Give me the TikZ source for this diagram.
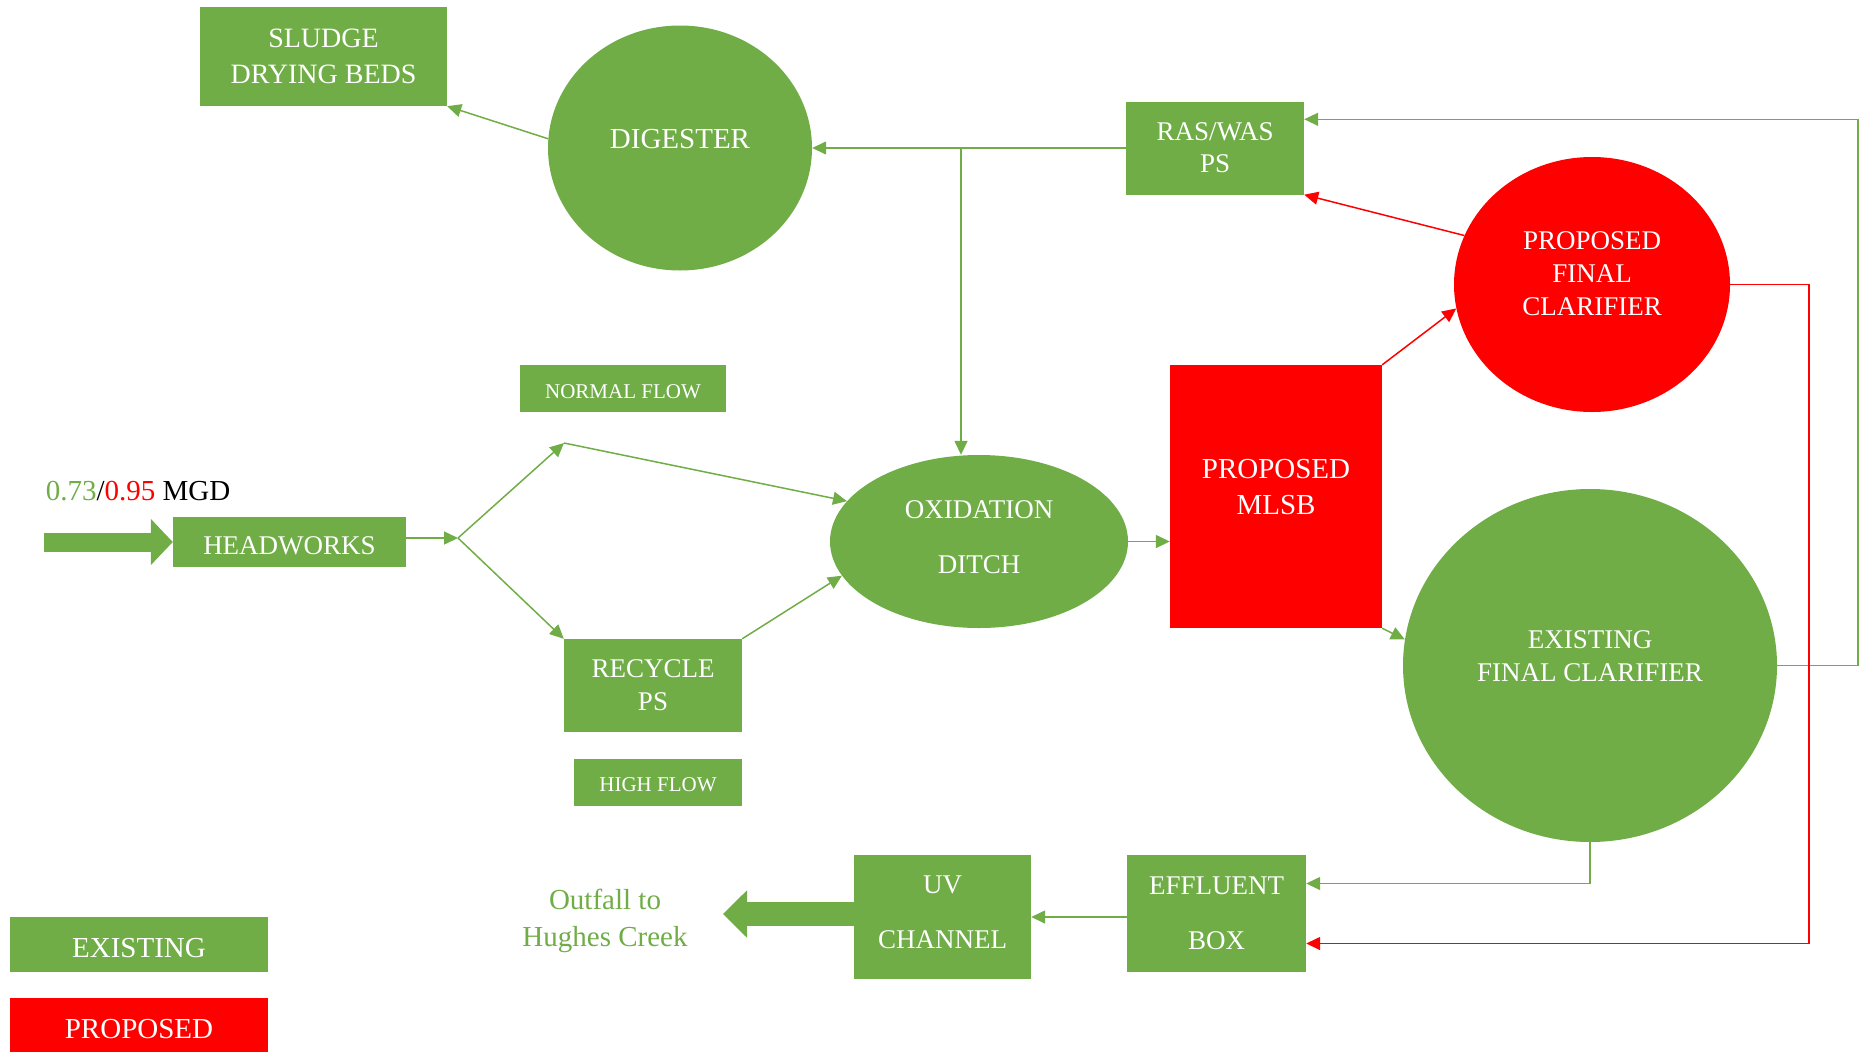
\documentclass[tikz,border=0pt]{standalone}
\usepackage{fontspec}
\setmainfont{Liberation Serif}
\usepackage{tikz}
\usetikzlibrary{arrows.meta}
\usetikzlibrary{shapes.geometric}
\usetikzlibrary{positioning}
\definecolor{plantgreen}{HTML}{70AD47}
\definecolor{plantred}{HTML}{FF0000}

\begin{document}
\begin{tikzpicture}[x=1pt, y=-1pt,
    box/.style={rectangle, fill=plantgreen, text=white, align=center, inner sep=0pt, font=\fontsize{27}{33}\selectfont},
    newbox/.style={box, fill=plantred},
    tank/.style={ellipse, fill=plantgreen, inner sep=0pt},
    newtank/.style={tank, fill=plantred},
    tag/.style={text=white, align=center, yshift=11pt, font=\fontsize{27}{33}\selectfont},
    flow/.style={color=plantgreen, line width=1.5pt, -{Triangle[length=14pt,width=13pt]}},
    newflow/.style={flow, color=plantred},
    fat/.style={color=plantgreen, line width=#1}]
    \useasboundingbox (0,0) rectangle (1867,1052);

    % Sludge side
    \node[box, minimum width=247, minimum height=99, font=\fontsize{28}{36}\selectfont] (sdb) at (323.5,56.5) {SLUDGE\\DRYING BEDS};
    \node[tank, minimum width=264, minimum height=245, label={[tag, yshift=-2.5pt, font=\fontsize{29}{35}\selectfont]center:DIGESTER}] (dig) at (680,148) {};
    \node[box, minimum width=178, minimum height=93, font=\fontsize{27}{32}\selectfont] (ras) at (1215,148) {RAS/WAS\\PS};

    % Headworks
    \node (rate) at (138,491) {\fontsize{29}{35}\selectfont\textcolor{plantgreen}{0.73}/\textcolor{plantred}{0.95} MGD};
    \node[box, minimum width=233, minimum height=50, text height=25pt, text depth=0pt] (hw) at (289.5,542) {HEADWORKS};
    \coordinate (split) at (458,538);
    \coordinate (upper) at (564,443);
    \node[box, minimum width=206, minimum height=47, text height=20pt, text depth=0pt, font=\fontsize{21}{25}\selectfont] (nflow) at (623,388.5) {NORMAL FLOW};
    \node[box, minimum width=178, minimum height=93] (rcy) at (653,685.5) {RECYCLE\\PS};
    \node[box, minimum width=168, minimum height=47, text height=18pt, text depth=0pt, font=\fontsize{21}{25}\selectfont] (hflow) at (658,782.5) {HIGH FLOW};

    % Treatment
    \node[tank, minimum width=298, minimum height=173, label={[tag, yshift=-7pt, font=\fontsize{27}{55}\selectfont]center:OXIDATION\\DITCH}] (ox) at (979,541.5) {};
    \node[newbox, minimum width=212, minimum height=263, label={[tag, yshift=-2pt, font=\fontsize{29}{36}\selectfont]center:PROPOSED\\MLSB}] (mlsb) at (1276,496.5) {};
    \node[newtank, minimum width=276, minimum height=255, label={[tag]center:PROPOSED\\FINAL\\CLARIFIER}] (pfc) at (1592,284.5) {};
    \node[tank, minimum width=374, minimum height=353, label={[tag, yshift=-2pt]center:EXISTING\\FINAL CLARIFIER}] (efc) at (1590,665.5) {};

    % Effluent
    \node[box, minimum width=179, minimum height=117, font=\fontsize{27}{55}\selectfont] (eff) at (1216.5,913.5) {EFFLUENT\\BOX};
    \node[box, minimum width=177, minimum height=124, text depth=10pt, font=\fontsize{27}{55}\selectfont] (uv) at (942.5,917) {UV\\CHANNEL};
    \coordinate (outfall) at (723,914);
    \node[text=plantgreen, align=center, font=\fontsize{29}{37}\selectfont] (creek) at (605,920.5) {Outfall to\\Hughes Creek};

    % Legend
    \node[box, minimum width=258, minimum height=55, text height=26pt, text depth=0pt, font=\fontsize{29}{35}\selectfont] (lgex) at (139,944.5) {EXISTING};
    \node[newbox, minimum width=258, minimum height=54, text height=26pt, text depth=0pt, font=\fontsize{29}{35}\selectfont] (lgpr) at (139,1025) {PROPOSED};

    % Flow lines
    \draw[fat=19pt, -{Triangle[length=22pt,width=45pt]}] (44,542) -- (hw.west);
    \draw[flow] (hw.east |- split) -- (split);
    \draw[flow] (split) -- (upper);
    \draw[flow] (upper) -- (ox.163);
    \draw[flow] (split) -- (rcy.north west);
    \draw[flow] (rcy.north east) -- (ox.194);
    \draw[flow] (ox) -- (ox -| mlsb.west);
    \draw[newflow] (mlsb.north east) -- (pfc.190);
    \draw[flow] (mlsb.south east) -- (efc.172);
    \draw[newflow] (pfc.159) -- (ras.south east);
    \draw[flow] (ras) -- (dig);
    \coordinate (jn) at (961,148);
    \draw[flow] (jn) -- (jn |- ox.north);
    \draw[flow] (dig.176) -- (sdb.south east);
    \draw[flow] (efc.east) -- ++(81,0) |- ([yshift=-18pt]ras.north east);
    \draw[newflow] (pfc.east) -- ++(79,0) |- ([yshift=-30pt]eff.east);
    \draw[flow] (efc.south) |- ([yshift=30pt]eff.east);
    \draw[flow] (eff.west |- uv.east) -- (uv.east);
    \draw[fat=24pt, -{Triangle[length=24pt,width=46pt]}] (uv.west |- outfall) -- (outfall);
\end{tikzpicture}
\end{document}
